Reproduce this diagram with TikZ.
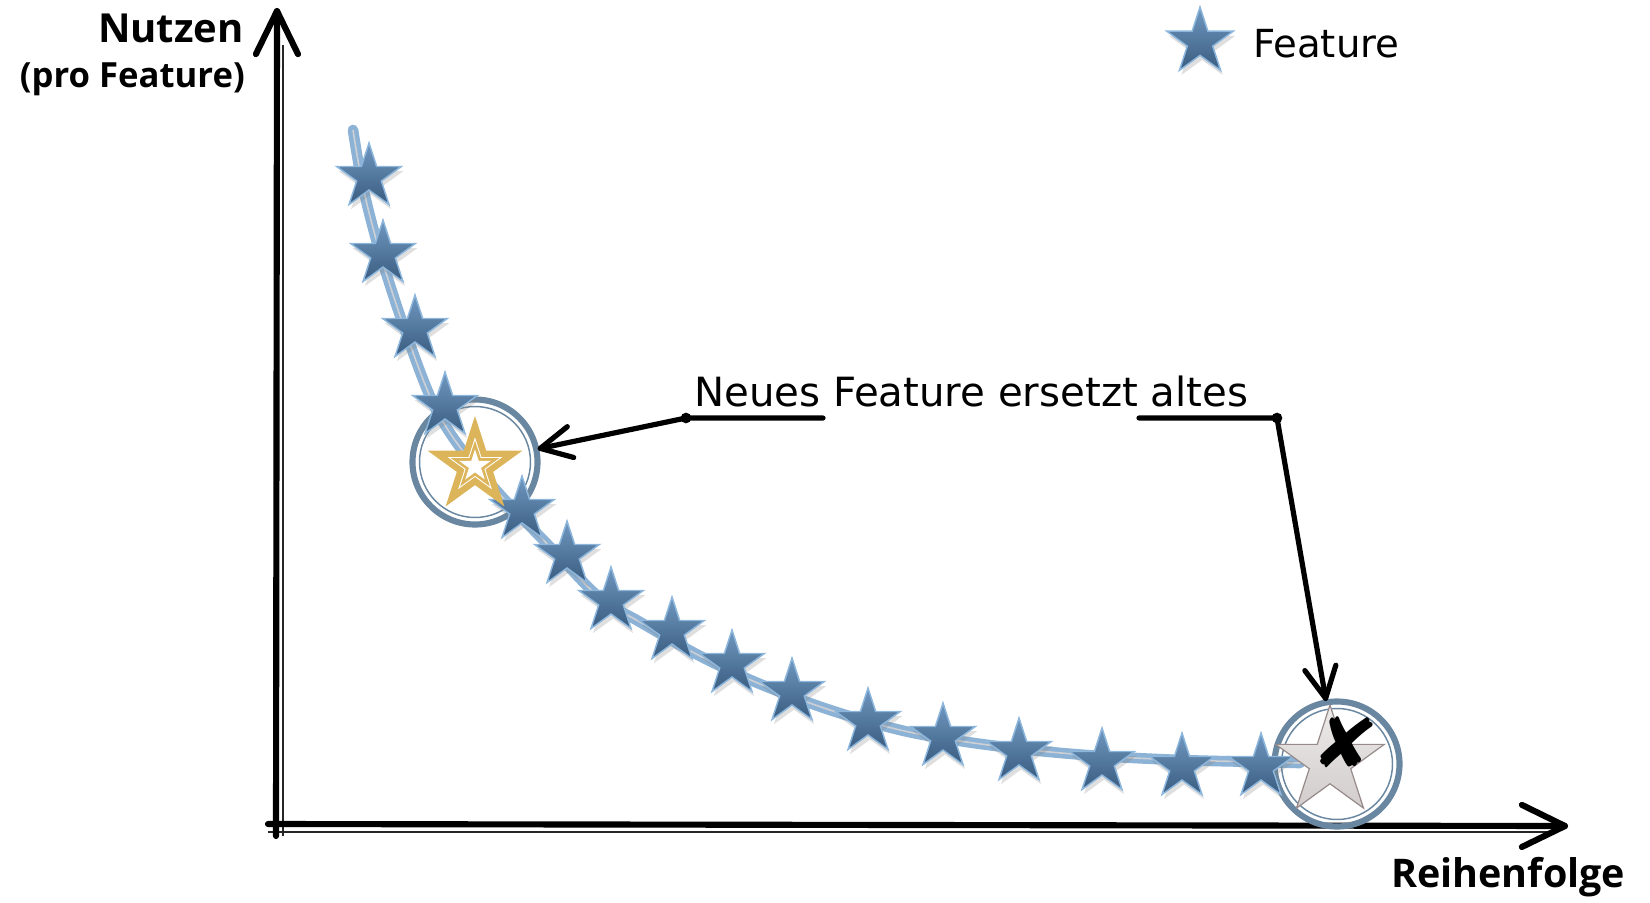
\documentclass[tikz,border=0pt]{standalone}
\usepackage{fontspec}
\setmainfont{DejaVu Sans}
\newfontfamily\labfont{Open Sans}
\usetikzlibrary{shapes.geometric,shadows,calc}
\definecolor{starTop}{RGB}{112,152,192}
\definecolor{starBot}{RGB}{58,92,128}
\definecolor{starEdge}{RGB}{140,182,220}
\definecolor{curveBlue}{RGB}{140,178,214}
\definecolor{curveMid}{RGB}{205,208,212}
\definecolor{ringBlue}{RGB}{105,135,160}
\definecolor{goldStar}{RGB}{220,180,90}
\definecolor{grayTop}{RGB}{238,235,235}
\definecolor{grayBot}{RGB}{210,204,204}
\definecolor{grayEdge}{RGB}{150,138,138}
\begin{document}
\begin{tikzpicture}[x=0.75pt,y=-0.75pt,
  starbase/.style={shape=star, star points=5, star point ratio=2.618, inner sep=0pt, outer sep=0pt},
  bstar/.style={starbase, minimum size=51pt, top color=starTop, bottom color=starBot, draw=starEdge, line width=1.1pt,
    drop shadow={shadow xshift=1.5pt, shadow yshift=-3.5pt, opacity=0.25}},
  axisline/.style={line width=4.6pt, line cap=round, line join=round},
  axisthin/.style={line width=1pt, black!85},
  annline/.style={line width=3.9pt, line cap=round, line join=round},
  dot/.style={circle, fill=black, inner sep=0pt, minimum size=8pt},
  ringouter/.style={circle, draw=ringBlue, line width=4.6pt, minimum size=93.75pt, inner sep=0pt},
  ringinner/.style={circle, draw=ringBlue, line width=1.1pt, minimum size=83.25pt, inner sep=0pt},
  boldlab/.style={font=\labfont\bfseries, inner sep=0pt},
  txt/.style={inner sep=0pt}
]
\useasboundingbox (0,0) rectangle (1650,903);

% axes
\coordinate (yb) at (276,836);
\coordinate (yt) at (277,11);
\coordinate (ybt) at (283,836);
\coordinate (ytt) at (283,45);
\coordinate (xl) at (268,824);
\coordinate (xr) at (1565,826);
\coordinate (xlt) at (268,832);
\coordinate (xrt) at (1548,832);
\draw[axisthin] (ybt) -- (ytt);
\draw[axisthin] (xlt) -- (xrt);
\draw[axisline] (yb) -- (yt);
\draw[axisline] (xl) -- (xr);
\draw[axisline] ($(yt)!36pt!26:(yb)$) -- (yt) -- ($(yt)!36pt!-26:(yb)$);
\draw[axisline] ($(xr)!36pt!26:(xl)$) -- (xr) -- ($(xr)!36pt!-26:(xl)$);

% axis labels
\node[boldlab, anchor=base east] (ylab1) at (244,42) {\fontsize{30pt}{33pt}\selectfont Nutzen};
\node[boldlab, anchor=base east] (ylab2) at (245,87) {\fontsize{26pt}{29pt}\selectfont (pro Feature)};
\node[boldlab, anchor=base west] (xlab) at (1391,887) {\fontsize{29.6pt}{32pt}\selectfont Reihenfolge};

% curve
\draw[curveBlue, line width=8pt, line cap=round] plot[smooth, tension=0.55] coordinates {
 (353,130) (363,187) (380,253) (405,330) (433,403) (462,450) (505,500) (555,552) (600,598)
 (640,622) (700,656) (760,684) (830,710) (900,730) (960,741) (1030,750) (1100,756) (1180,760) (1260,762) (1300,763)};
\draw[curveMid, line width=1.2pt] plot[smooth, tension=0.55] coordinates {
 (353,130) (363,187) (380,253) (405,330) (433,403) (462,450) (505,500) (555,552) (600,598)
 (640,622) (700,656) (760,684) (830,710) (900,730) (960,741) (1030,750) (1100,756) (1180,760) (1260,762) (1300,763)};

% rings
\node[ringouter] (c1) at (475,462) {};
\node[ringinner] (c1i) at (475,462) {};
\node[ringouter] (c2) at (1337,764) {};
\node[ringinner] (c2i) at (1337,764) {};

% blue stars
\node[bstar] (s1) at (369,177) {};
\node[bstar] (s2) at (383,254) {};
\node[bstar] (s3) at (415,329) {};
\node[bstar] (s4) at (445,406) {};
\node[bstar] (s5) at (522,510) {};
\node[bstar] (s6) at (567,555) {};
\node[bstar] (s7) at (611,601) {};
\node[bstar] (s8) at (672,631) {};
\node[bstar] (s9) at (732,664) {};
\node[bstar] (s10) at (792,692) {};
\node[bstar] (s11) at (868,722) {};
\node[bstar] (s12) at (943,737) {};
\node[bstar] (s13) at (1019,752) {};
\node[bstar] (s14) at (1102,762) {};
\node[bstar] (s15) at (1182,767) {};
\node[bstar] (s16) at (1261,767) {};

% gold star
\node[starbase, minimum size=75pt, fill=goldStar] (g1) at (475,466) {};
\node[starbase, minimum size=43pt, fill=white] (g2) at (475,466) {};
\node[starbase, minimum size=38pt, fill=goldStar] (g3) at (475,466) {};
\node[starbase, minimum size=25pt, fill=white] (g4) at (475,466) {};

% gray star with cross
\node[starbase, minimum size=85.5pt, top color=grayTop, bottom color=grayBot, draw=grayEdge, line width=0.9pt] (gs) at (1330,762) {};
\node[txt, rotate=-8] (xm) at (1345,743) {\fontsize{56pt}{56pt}\selectfont ✘};

% legend
\node[bstar, minimum size=52.5pt] (ls) at (1200,42) {};
\node[txt, anchor=base west] (lt) at (1253,57) {\fontsize{29pt}{32pt}\selectfont Feature};

% annotation
\node[txt, anchor=base west] (ann) at (694,406) {\fontsize{30.2pt}{34pt}\selectfont Neues Feature ersetzt altes};
\coordinate (l1) at (823,418);
\coordinate (r1) at (1139,418);
\node[dot] (d1) at (686,418) {};
\node[dot] (d2) at (1277,418) {};
\coordinate (t1) at ($(c1.center)!50pt!(d1.center)$);
\coordinate (t2) at ($(c2.center)!50pt!(d2.center)$);
\draw[annline] (l1) -- (d1.center) -- (t1);
\draw[annline] (r1) -- (d2.center) -- (t2);
\draw[annline] ($(t1)!26pt!27:(d1.center)$) -- (t1) -- ($(t1)!26pt!-27:(d1.center)$);
\draw[annline] ($(t2)!26pt!27:(d2.center)$) -- (t2) -- ($(t2)!26pt!-27:(d2.center)$);
\end{tikzpicture}
\end{document}
